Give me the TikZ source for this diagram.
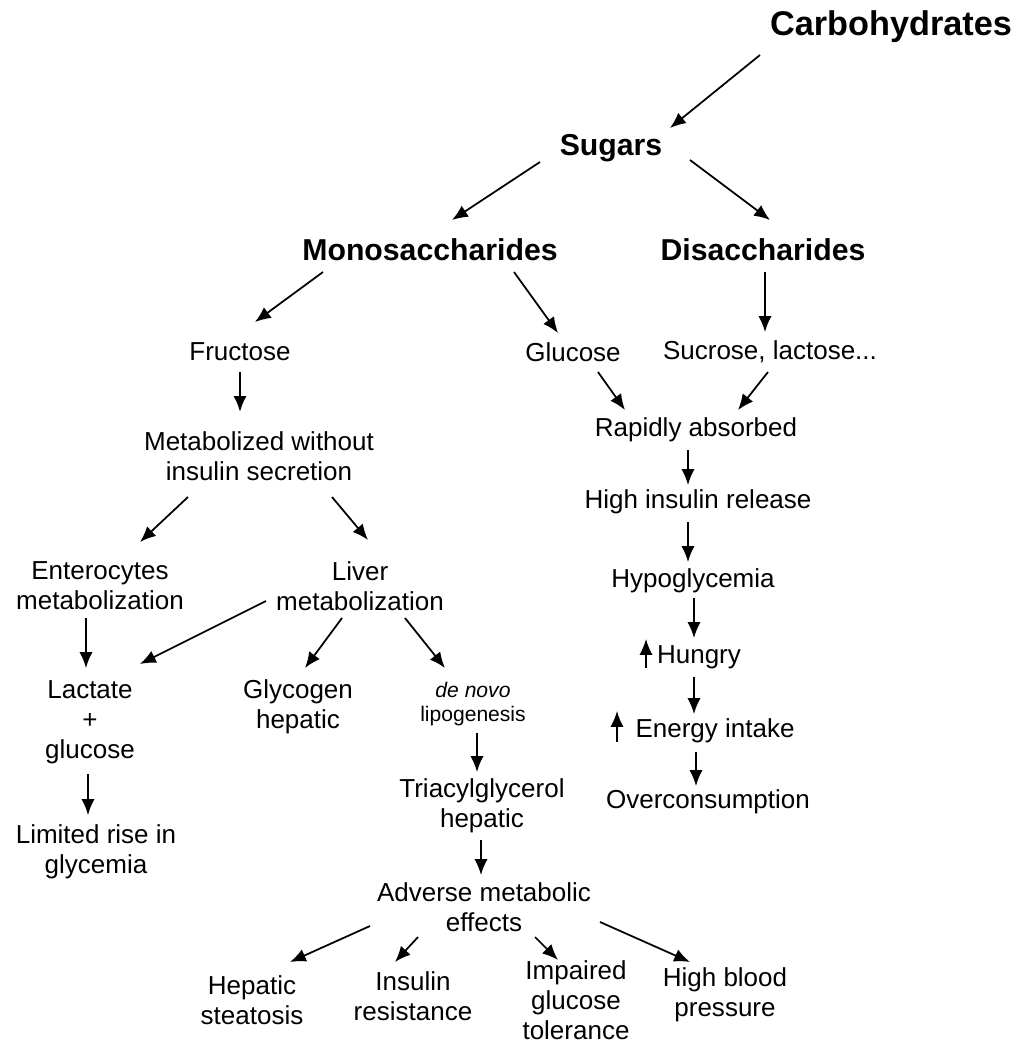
\documentclass[tikz,border=0pt]{standalone}
\usepackage{fontspec}
\setmainfont{Liberation Sans}
\usepackage{tikz}
\usetikzlibrary{arrows.meta,positioning,calc}

\begin{document}
\begin{tikzpicture}[
  x=0.02cm, y=-0.02cm,
  head/.style={font=\bfseries\fontsize{17.2}{20}\selectfont,inner sep=0pt},
  item/.style={font=\fontsize{14.8}{17}\selectfont,align=center,inner sep=0pt},
  small/.style={font=\fontsize{12}{14}\selectfont,align=center,inner sep=0pt},
  arrow/.style={-{Latex[length=9pt,width=7.5pt]},line width=1pt},
]
  \useasboundingbox (0,0) rectangle (1023,1048);

  % top of the tree
  \node[head,font=\bfseries\fontsize{19.5}{22}\selectfont] (carb) at (891,27) {Carbohydrates};
  \node[head] (sugars) at (611,148) {Sugars};
  \node[head] (mono)   at (430,250) {Monosaccharides};
  \node[head] (di)     at (763,250) {Disaccharides};

  % right branch
  \node[item] (gluc)   at (573,352) {Glucose};
  \node[item] (sucr)   at (770,352) {Sucrose, lactose...};
  \node[item] (rapid)  at (696,430) {Rapidly absorbed};
  \node[item] (insul)  at (698,502) {High insulin release};
  \node[item] (hypo)   at (693,581) {Hypoglycemia};
  \node[item] (hungry) at (699,657) {Hungry};
  \node[item] (energy) at (715,731) {Energy intake};
  \node[item] (overc)  at (708,802) {Overconsumption};

  % left branch
  \node[item] (fruct)  at (240,352) {Fructose};
  \node[item] (metab)  at (259,456) {Metabolized without\\insulin secretion};
  \node[item] (entero) at (100,586) {Enterocytes\\metabolization};
  \node[item] (liver)  at (360,586) {Liver\\metabolization};
  \node[item] (lact)   at (90,722)  {Lactate\\+\\glucose};
  \node[item] (glyco)  at (298,707) {Glycogen\\hepatic};
  \node[small] (denovo) at (473,704) {\textit{de novo}\\lipogenesis};
  \node[item] (limit)  at (96,852)  {Limited rise in\\glycemia};
  \node[item] (triac)  at (482,806) {Triacylglycerol\\hepatic};
  \node[item] (advers) at (484,907) {Adverse metabolic\\effects};
  \node[item] (steat)  at (252,1000) {Hepatic\\steatosis};
  \node[item] (resist) at (413,996) {Insulin\\resistance};
  \node[item] (impair) at (576,1000) {Impaired\\glucose\\tolerance};
  \node[item] (bp)     at (725,995) {High blood\\pressure};

  \draw[arrow] ($(carb)+(-131,28)$) -- ($(sugars)+(59,-20)$);
  \draw[arrow] ($(sugars)+(-71,14)$) -- ($(mono)+(22,-30)$);
  \draw[arrow] ($(sugars)+(79,12)$) -- ($(di)+(7,-30)$);
  \draw[arrow] ($(mono)+(-107,22)$) -- ($(fruct)+(15,-30)$);
  \draw[arrow] ($(mono)+(84,22)$) -- ($(gluc)+(-15,-19)$);
  \draw[arrow] ($(di)+(2,22)$) -- ($(sucr)+(-5,-20)$);

  \draw[arrow] ($(gluc)+(25,20)$) -- ($(rapid)+(-71,-20)$);
  \draw[arrow] ($(sucr)+(-2,20)$) -- ($(rapid)+(42,-20)$);
  \draw[arrow] ($(rapid)+(-8,20)$) -- ($(insul)+(-10,-17)$);
  \draw[arrow] ($(insul)+(-10,20)$) -- ($(hypo)+(-5,-19)$);
  \draw[arrow] ($(hypo)+(1,17)$) -- ($(hungry)+(-5,-19)$);
  \draw[arrow] ($(hungry)+(-5,20)$) -- ($(energy)+(-21,-17)$);
  \draw[arrow] ($(energy)+(-19,21)$) -- ($(overc)+(-12,-16)$);
  % the little "more" arrows
  \draw[arrow] ($(hungry)+(-53,11)$) -- ($(hungry)+(-53,-18)$);
  \draw[arrow] ($(energy)+(-98,11)$) -- ($(energy)+(-98,-20)$);

  \draw[arrow,line width=1.4pt] ($(fruct)+(0,20)$) -- ($(metab)+(-19,-44)$);
  \draw[arrow] ($(metab)+(-71,41)$) -- ($(entero)+(40,-44)$);
  \draw[arrow] ($(metab)+(73,41)$) -- ($(liver)+(8,-46)$);
  \draw[arrow] ($(entero)+(-14,32)$) -- ($(lact)+(-4,-54)$);
  \draw[arrow] ($(liver)+(-94,15)$) -- ($(lact)+(50,-58)$);
  \draw[arrow] ($(liver)+(-18,32)$) -- ($(glyco)+(7,-39)$);
  \draw[arrow] ($(liver)+(45,32)$) -- ($(denovo)+(-28,-36)$);
  \draw[arrow] ($(denovo)+(4,29)$) -- ($(triac)+(-5,-34)$);
  \draw[arrow] ($(lact)+(-2,52)$) -- ($(limit)+(-8,-37)$);
  \draw[arrow] ($(triac)+(-1,34)$) -- ($(advers)+(-3,-32)$);

  \draw[arrow] ($(advers)+(-114,19)$) -- ($(steat)+(38,-38)$);
  \draw[arrow] ($(advers)+(-66,30)$) -- ($(resist)+(-18,-34)$);
  \draw[arrow] ($(advers)+(51,30)$) -- ($(impair)+(-18,-40)$);
  \draw[arrow] ($(advers)+(116,15)$) -- ($(bp)+(-35,-33)$);
\end{tikzpicture}
\end{document}
